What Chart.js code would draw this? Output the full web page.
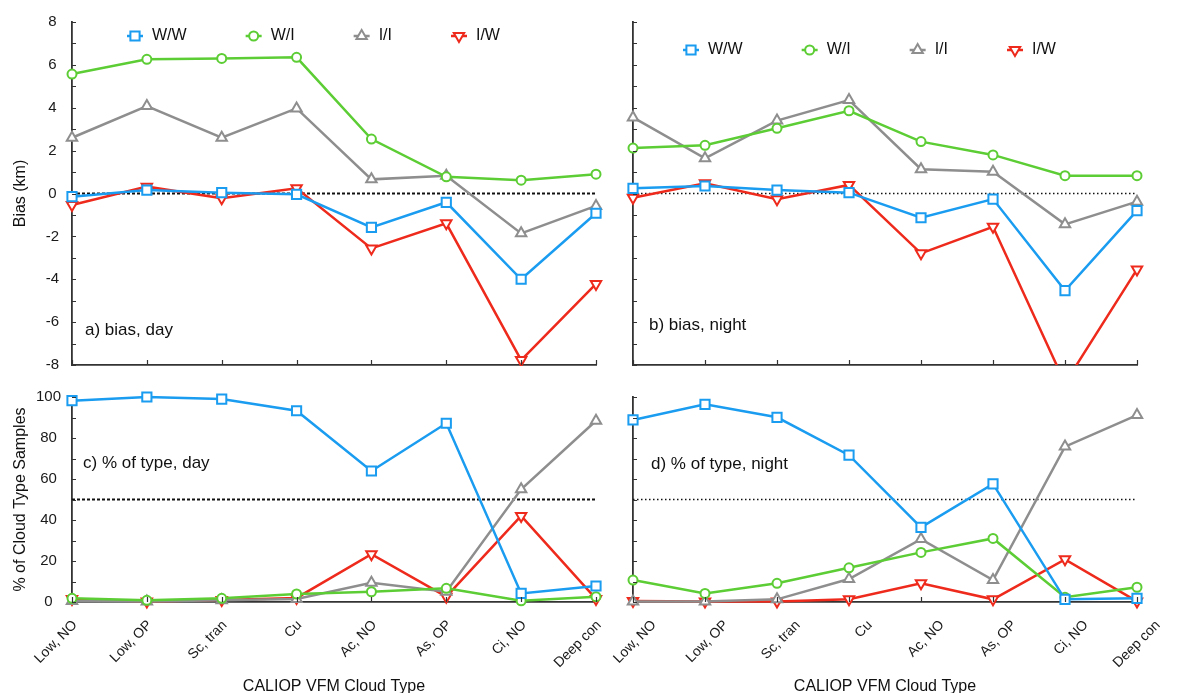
<!DOCTYPE html>
<html>
<head>
<meta charset="utf-8">
<script src="https://cdn.jsdelivr.net/npm/chart.js@4.4.1/dist/chart.umd.min.js"></script>
<style>
  html, body { margin: 0; padding: 0; background: #fff; }
  #wrap { position: relative; width: 1179px; height: 693px; overflow: hidden; }
  canvas { position: absolute; }
</style>
</head>
<body>
<div id="wrap">
  <canvas id="biasDay" width="650" height="390" style="left:0;top:0"></canvas>
  <canvas id="pctDay" width="650" height="318" style="left:0;top:375px"></canvas>
  <canvas id="biasNight" width="619" height="375" style="left:560px;top:0"></canvas>
  <canvas id="pctNight" width="619" height="318" style="left:560px;top:375px"></canvas>
</div>
<script>
const categories = ['Low, NO', 'Low, OP', 'Sc, tran', 'Cu', 'Ac, NO', 'As, OP', 'Ci, NO', 'Deep con'];
const seriesNames = ['W/W', 'W/I', 'I/I', 'I/W'];

// bias (km), daytime
const biasDayWW = [-0.15, 0.16, 0.04, -0.04, -1.58, -0.41, -4.0, -0.92];
const biasDayWI = [5.57, 6.26, 6.3, 6.35, 2.54, 0.78, 0.62, 0.9];
const biasDayII = [2.6, 4.08, 2.6, 3.97, 0.66, 0.83, -1.86, -0.58];
const biasDayIW = [-0.54, 0.32, -0.22, 0.24, -2.56, -1.39, -7.77, -4.22];

// bias (km), night
const biasNightWW = [0.24, 0.35, 0.16, 0.04, -1.13, -0.26, -4.53, -0.8];
const biasNightWI = [2.12, 2.25, 3.04, 3.86, 2.42, 1.8, 0.83, 0.83];
const biasNightII = [3.55, 1.64, 3.4, 4.36, 1.13, 1.02, -1.44, -0.38];
const biasNightIW = [-0.2, 0.48, -0.27, 0.4, -2.79, -1.55, -8.85, -3.54];

// % of cloud type samples, daytime
const pctDayWW = [98.2, 100, 99, 93.3, 63.9, 87.2, 4.2, 7.8];
const pctDayWI = [1.8, 0.8, 1.8, 3.9, 5, 6.7, 0.6, 2.6];
const pctDayII = [0.5, 0.3, 0.8, 1.5, 9.4, 5, 55, 88.4];
const pctDayIW = [1.5, 0.3, 1, 2, 23.3, 2.6, 42, 1.5];

// % of cloud type samples, night
const pctNightWW = [88.8, 96.4, 90.1, 71.6, 36.4, 57.6, 1.3, 1.8];
const pctNightWI = [10.7, 4.2, 9.1, 16.7, 24.2, 31, 2.3, 7.2];
const pctNightII = [0.3, 0.3, 1.3, 11.2, 30.7, 10.7, 75.8, 91.2];
const pctNightIW = [0.5, 0.3, 0.3, 1.3, 9.1, 1.3, 20.8, 0.3];

const biasRef = 0;
const pctRef = 50;

const colors = ['#1a9cf0', '#5ccd34', '#8e8e8e', '#ee2a1c'];
const styles = ['rect', 'circle', 'triangle', 'triangle'];
const rotations = [0, 0, 0, 180];
const radii = [6.5, 4.5, 6, 6];

const FONT = '"Liberation Sans", Arial, Helvetica, sans-serif';
Chart.defaults.font.family = FONT;
Chart.defaults.color = '#1a1a1a';

// reference line, inward ticks, caption and in-plot legend
const panelExtras = {
  id: 'panelExtras',
  beforeDatasetsDraw(chart, args, o) {
    const {ctx, chartArea: a, scales: {y}} = chart;
    const py = y.getPixelForValue(o.refValue);
    ctx.save();
    ctx.strokeStyle = '#111';
    ctx.lineWidth = o.refWidth;
    ctx.setLineDash(o.refDash);
    ctx.beginPath();
    ctx.moveTo(a.left, py);
    ctx.lineTo(a.right, py);
    ctx.stroke();
    ctx.restore();
  },
  afterDatasetsDraw(chart, args, o) {
    const {ctx, chartArea: a, scales: {x, y}} = chart;
    ctx.save();
    ctx.strokeStyle = '#333';
    ctx.lineWidth = 1.2;
    ctx.beginPath();
    y.ticks.forEach((t, i) => {
      const p = Math.round(y.getPixelForTick(i)) + 0.5;
      ctx.moveTo(a.left, p);
      ctx.lineTo(a.left + 4, p);
    });
    x.ticks.forEach((t, i) => {
      const p = Math.round(x.getPixelForTick(i)) + 0.5;
      ctx.moveTo(p, a.bottom);
      ctx.lineTo(p, a.bottom - 5);
    });
    ctx.stroke();

    ctx.fillStyle = '#111';
    ctx.textBaseline = 'middle';
    ctx.textAlign = 'left';
    ctx.font = '17px ' + FONT;
    ctx.fillText(o.caption, a.left + o.captionX, a.top + o.captionY);

    if (o.legend) {
      ctx.font = '16px ' + FONT;
      let mx = a.left + o.legend.x;
      const my = a.top + o.legend.y;
      chart.data.datasets.forEach(ds => {
        ctx.strokeStyle = ds.borderColor;
        ctx.lineWidth = 2.5;
        ctx.beginPath();
        ctx.moveTo(mx - 8, my);
        ctx.lineTo(mx + 8, my);
        ctx.stroke();
        ctx.fillStyle = '#fff';
        ctx.lineWidth = 2;
        Chart.helpers.drawPoint(ctx, {
          pointStyle: ds.pointStyle, rotation: ds.pointRotation,
          radius: ds.pointRadius, borderWidth: 2
        }, mx, my);
        ctx.fillStyle = '#111';
        ctx.fillText(ds.label, mx + 17, my);
        mx += 17 + ctx.measureText(ds.label).width + 67;
      });
    }
    ctx.restore();
  }
};

function makePanel(id, series, p) {
  const datasets = series.map((data, i) => ({
    label: seriesNames[i],
    data: data,
    borderColor: colors[i],
    backgroundColor: '#fff',
    borderWidth: 2.5,
    pointStyle: styles[i],
    pointRotation: rotations[i],
    pointRadius: radii[i],
    pointBorderWidth: 2,
    pointBackgroundColor: '#fff',
    pointBorderColor: colors[i],
    tension: 0,
    clip: p.clip
  }));

  return new Chart(document.getElementById(id), {
    type: 'line',
    data: { labels: categories, datasets: datasets },
    plugins: [panelExtras],
    options: {
      responsive: false,
      animation: false,
      layout: { padding: { top: 22, right: p.padRight, left: 0, bottom: 0 } },
      plugins: {
        legend: { display: false },
        tooltip: { enabled: false },
        panelExtras: p.extras
      },
      scales: {
        x: {
          offset: false,
          grid: { display: false, drawTicks: false },
          border: { color: '#333', width: 1.8 },
          ticks: {
            display: p.xLabels, autoSkip: false, minRotation: 45, maxRotation: 45,
            padding: 15, labelOffset: p.labelShift || 0,
            font: { size: 14 }, color: '#1a1a1a'
          },
          title: {
            display: p.xLabels, text: 'CALIOP VFM Cloud Type',
            font: { size: 16 }, color: '#111', padding: { top: 0, bottom: -3 }
          },
          afterFit: s => { s.height = p.xHeight; }
        },
        y: {
          min: p.min, max: p.max,
          grid: { display: false, drawTicks: false },
          border: { color: '#333', width: 1.8 },
          ticks: {
            stepSize: p.step, autoSkip: false, crossAlign: 'center',
            padding: p.tickPad, font: { size: 15 }, color: '#1a1a1a',
            callback: v => (p.yLabels && v % p.labelStep === 0) ? v : ''
          },
          title: {
            display: !!p.yTitle, text: p.yTitle || '',
            font: { size: 16 }, color: '#111', padding: { top: 11, bottom: 0 }
          },
          afterFit: s => { s.width = p.yWidth; }
        }
      }
    }
  });
}

makePanel('biasDay', [biasDayWW, biasDayWI, biasDayII, biasDayIW], {
  min: -8, max: 8, step: 1, labelStep: 2, yLabels: true, yTitle: 'Bias (km)',
  yWidth: 72, tickPad: 13, padRight: 54, xHeight: 25, xLabels: false,
  clip: { left: 10, right: 10, top: 10, bottom: 1 },
  extras: {
    refValue: biasRef, refWidth: 2, refDash: [3, 2],
    caption: 'a) bias, day', captionX: 13, captionY: 308,
    legend: { x: 63, y: 14 }
  }
});

makePanel('biasNight', [biasNightWW, biasNightWI, biasNightII, biasNightIW], {
  min: -8, max: 8, step: 1, labelStep: 2, yLabels: false, yTitle: null,
  yWidth: 73, tickPad: 0, padRight: 42, xHeight: 10, xLabels: false,
  clip: { left: 10, right: 10, top: 10, bottom: 0 },
  extras: {
    refValue: biasRef, refWidth: 1.3, refDash: [1.5, 2.5],
    caption: 'b) bias, night', captionX: 16, captionY: 303,
    legend: { x: 58, y: 28 }
  }
});

makePanel('pctDay', [pctDayWW, pctDayWI, pctDayII, pctDayIW], {
  min: 0, max: 100, step: 10, labelStep: 20, yLabels: true, yTitle: '% of Cloud Type Samples',
  yWidth: 72, tickPad: 11, padRight: 54, xHeight: 91, xLabels: true, labelShift: 3,
  clip: 10,
  extras: {
    refValue: pctRef, refWidth: 1.8, refDash: [3, 2],
    caption: 'c) % of type, day', captionX: 11, captionY: 66,
    legend: null
  }
});

makePanel('pctNight', [pctNightWW, pctNightWI, pctNightII, pctNightIW], {
  min: 0, max: 100, step: 10, labelStep: 20, yLabels: false, yTitle: null,
  yWidth: 73, tickPad: 0, padRight: 42, xHeight: 91, xLabels: true, labelShift: 21,
  clip: 10,
  extras: {
    refValue: pctRef, refWidth: 1.3, refDash: [1.5, 2.5],
    caption: 'd) % of type, night', captionX: 18, captionY: 67,
    legend: null
  }
});
</script>
</body>
</html>
